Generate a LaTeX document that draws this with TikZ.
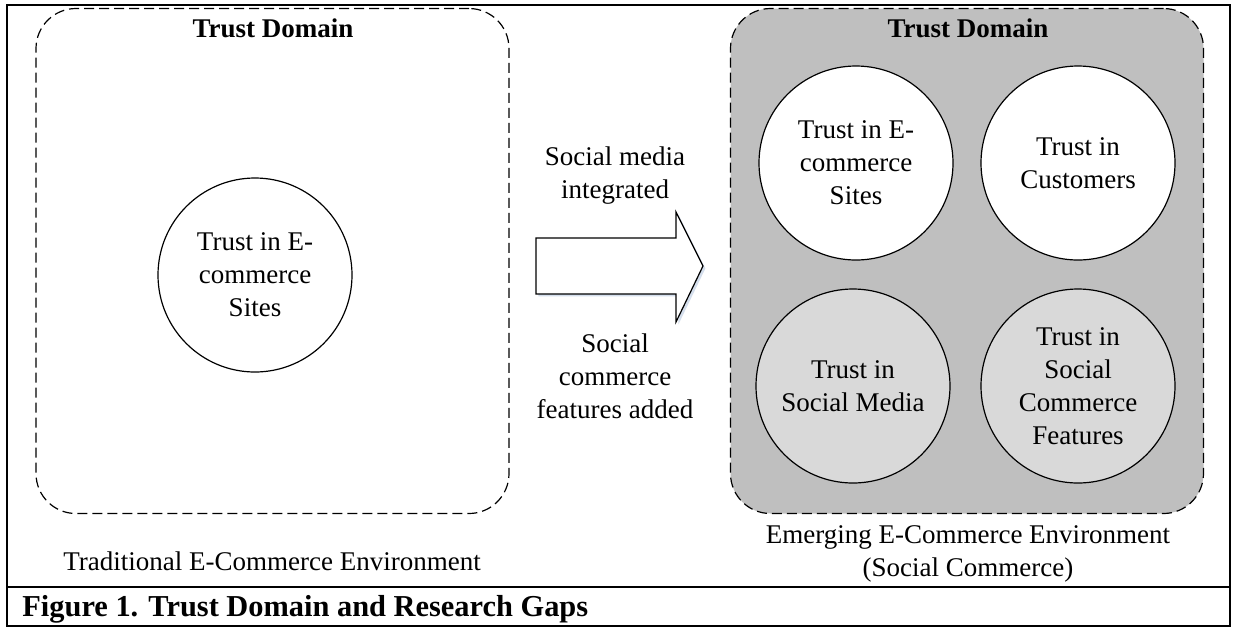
\documentclass[tikz,border=0pt]{standalone}
\usepackage{fontspec}
\setmainfont{Liberation Serif}
\usetikzlibrary{shadows}
\definecolor{boxgray}{HTML}{BFBFBF}
\definecolor{circgray}{HTML}{D9D9D9}
\definecolor{glow}{HTML}{B8C8E0}
\begin{document}
\begin{tikzpicture}[x=0.5pt,y=-0.5pt,
  frameline/.style={line width=1pt},
  domainbox/.style={draw, dash pattern=on 5pt off 2.5pt, line width=0.6pt, rounded corners=20pt,
    minimum width=236.5pt, minimum height=252.5pt, inner sep=0pt},
  trustcirc/.style={circle, draw, line width=0.6pt, minimum size=97pt, inner sep=0pt, align=center,
    font=\fontsize{13.5}{16.5}\selectfont},
  lbl/.style={align=center, font=\fontsize{13.5}{16.5}\selectfont, inner sep=0pt},
  ttl/.style={font=\bfseries\fontsize{13.5}{16.5}\selectfont, inner sep=0pt},
]
\useasboundingbox (0,0) rectangle (1233,628);
\fill[white] (0,0) rectangle (1233,628);

% outer frame and caption row
\draw[frameline] (7,5) rectangle (1230,626);
\draw[frameline] (7,587) -- (1230,587);
\node[anchor=base west, inner sep=0pt, font=\bfseries\fontsize{15.2}{18}\selectfont] (cap) at (22,616)
  {Figure 1. Trust Domain and Research Gaps};

% left domain
\node[domainbox] (ldom) at (272.5,261) {};
\node[ttl] (ltitle) at (273,28) {Trust Domain};
\node[trustcirc, fill=white] (lsites) at (255,275) {Trust in E-\\commerce\\Sites};
\node[lbl] (lenv) at (272,561) {Traditional E-Commerce Environment};

% right domain
\node[domainbox, fill=boxgray] (rdom) at (967,261) {};
\node[ttl] (rtitle) at (968,28) {Trust Domain};
\node[trustcirc, fill=white] (rsites) at (856,163) {Trust in E-\\commerce\\Sites};
\node[trustcirc, fill=white] (rcust) at (1078,163) {Trust in\\Customers};
\node[trustcirc, fill=circgray] (rsm) at (853,386) {Trust in\\Social Media};
\node[trustcirc, fill=circgray] (rscf) at (1078,386) {Trust in\\Social\\Commerce\\Features};
\node[lbl] (renv) at (968,554) {Emerging E-Commerce Environment\\(Social Commerce)};

% transition arrow
\draw[line width=0.6pt, fill=white,
  drop shadow={shadow xshift=1.2pt, shadow yshift=-1.2pt, fill=glow, opacity=0.6}]
  (536,238) -- (676,238) -- (676,212) -- (703,266) -- (676,322) -- (676,294) -- (536,294) -- cycle;
\node[lbl] (smi) at (615,176) {Social media\\integrated};
\node[lbl] (scf) at (615,376) {Social\\commerce\\features added};
\end{tikzpicture}
\end{document}
